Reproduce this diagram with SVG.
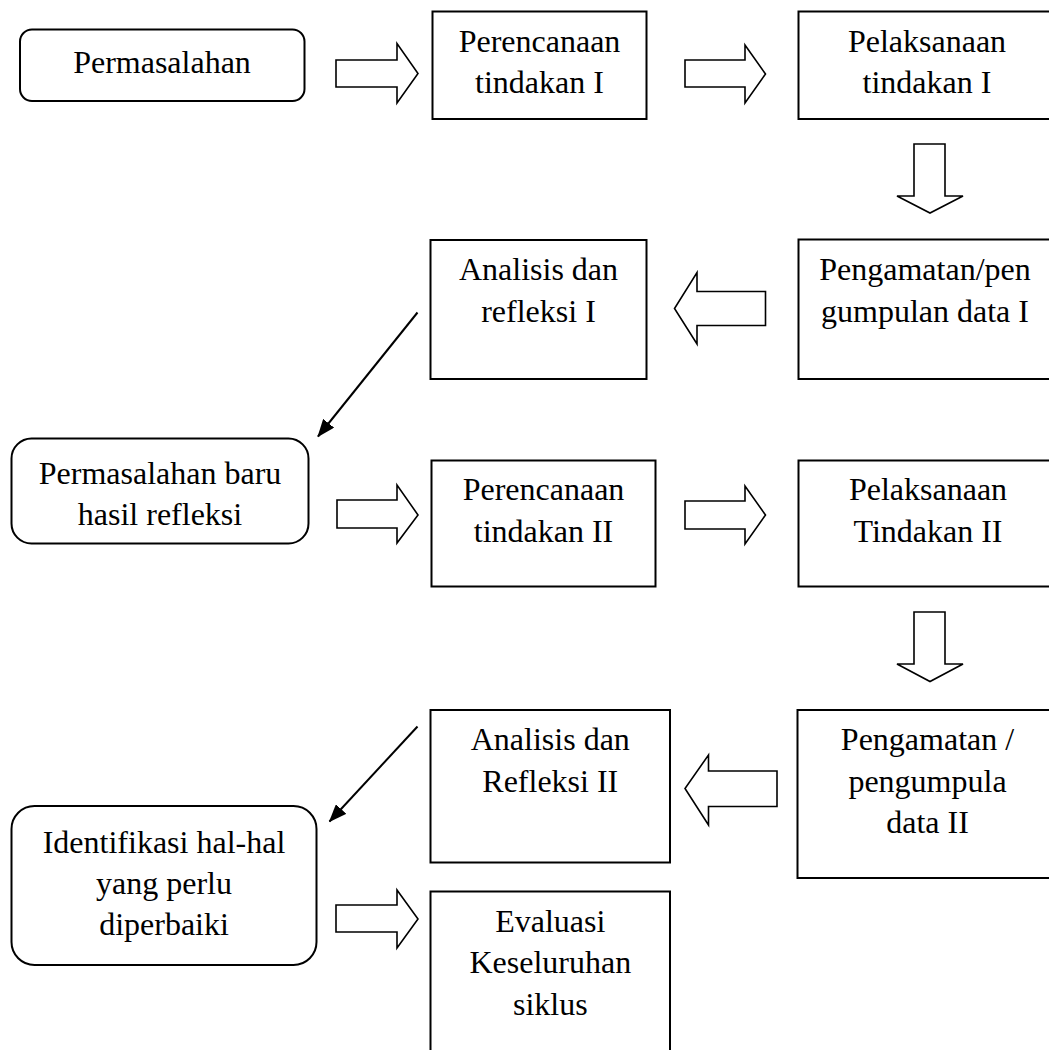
<svg xmlns="http://www.w3.org/2000/svg" width="1049" height="1050" viewBox="0 0 1049 1050">
<defs>
<style>
.box{fill:#fff;stroke:#000;stroke-width:2}
.blk{fill:#fff;stroke:#000;stroke-width:1.6;stroke-linejoin:miter}
.ln{fill:none;stroke:#000;stroke-width:2}
text{font-family:"Liberation Serif","Times New Roman",serif;font-size:32px;fill:#000;text-anchor:middle}
</style>
<marker id="ah" markerWidth="18" markerHeight="14" refX="17" refY="7" orient="auto" markerUnits="userSpaceOnUse" viewBox="0 0 18 14">
<path d="M0,0 L18,7 L0,14 Z" fill="#000"/>
</marker>
</defs>
<rect width="1049" height="1050" fill="#fff"/>

<g id="n-permasalahan">
<rect class="box" x="20" y="29.5" width="284.5" height="71.5" rx="12"/>
<text x="162" y="73">Permasalahan</text>
</g>
<g id="n-perencanaan1">
<rect class="box" x="432.5" y="11.5" width="214" height="107.5"/>
<text x="539.5" y="52">Perencanaan</text>
<text x="539.5" y="93">tindakan I</text>
</g>
<g id="n-pelaksanaan1">
<rect class="box" x="798.5" y="11.5" width="300" height="107.5"/>
<text x="927" y="52">Pelaksanaan</text>
<text x="927" y="93">tindakan I</text>
</g>
<g id="n-analisis1">
<rect class="box" x="430.5" y="240" width="216" height="139"/>
<text x="538.5" y="280">Analisis dan</text>
<text x="538.5" y="322">refleksi I</text>
</g>
<g id="n-pengamatan1">
<rect class="box" x="798.5" y="239.5" width="300" height="139.5"/>
<text x="925" y="280">Pengamatan/pen</text>
<text x="925" y="322">gumpulan data I</text>
</g>
<g id="n-permasalahanbaru">
<rect class="box" x="11.5" y="438.5" width="297" height="105" rx="20"/>
<text x="160" y="483.5">Permasalahan baru</text>
<text x="160" y="525">hasil refleksi</text>
</g>
<g id="n-perencanaan2">
<rect class="box" x="431.5" y="460.5" width="224" height="126"/>
<text x="543.5" y="500">Perencanaan</text>
<text x="543.5" y="541.5">tindakan II</text>
</g>
<g id="n-pelaksanaan2">
<rect class="box" x="798.5" y="460.5" width="300" height="126"/>
<text x="928" y="500">Pelaksanaan</text>
<text x="928" y="541.5">Tindakan II</text>
</g>
<g id="n-analisis2">
<rect class="box" x="430.5" y="710" width="239.5" height="152.5"/>
<text x="550.3" y="750">Analisis dan</text>
<text x="550.3" y="791.5">Refleksi II</text>
</g>
<g id="n-pengamatan2">
<rect class="box" x="797.5" y="710" width="300" height="168"/>
<text x="927.5" y="750">Pengamatan /</text>
<text x="927.5" y="791.5">pengumpula</text>
<text x="927.5" y="833">data II</text>
</g>
<g id="n-identifikasi">
<rect class="box" x="11.5" y="806" width="305" height="159" rx="23"/>
<text x="164" y="853">Identifikasi hal-hal</text>
<text x="164" y="894">yang perlu</text>
<text x="164" y="935">diperbaiki</text>
</g>
<g id="n-evaluasi">
<rect class="box" x="430.5" y="891.5" width="239.5" height="200"/>
<text x="550.3" y="931.5">Evaluasi</text>
<text x="550.3" y="973">Keseluruhan</text>
<text x="550.3" y="1015">siklus</text>
</g>

<g id="connectors">
<polygon class="blk" points="336,60 397,60 397,43.5 418,73.5 397,103 397,87 336,87"/>
<polygon class="blk" points="685,60 745,60 745,45 765.5,74 745,103 745,87 685,87"/>
<polygon class="blk" points="914,144 945,144 945,196 963,196 930,213 897,196 914,196"/>
<polygon class="blk" points="765.5,291.5 697,291.5 697,272.5 674.5,308.5 697,344 697,325.5 765.5,325.5"/>
<line class="ln" x1="417.5" y1="312.5" x2="318" y2="436.5" marker-end="url(#ah)"/>
<polygon class="blk" points="337,500 397,500 397,485 418,515 397,543 397,528 337,528"/>
<polygon class="blk" points="685,501 745,501 745,486 765.5,515 745,544 745,529 685,529"/>
<polygon class="blk" points="914,612 945,612 945,664 963,664 930,681.5 897,664 914,664"/>
<polygon class="blk" points="777,771 708.5,771 708.5,755 685,788.5 708.5,825 708.5,806.5 777,806.5"/>
<line class="ln" x1="417.5" y1="726.5" x2="329.5" y2="821.5" marker-end="url(#ah)"/>
<polygon class="blk" points="336,905 397,905 397,890 418,919 397,948 397,932 336,932"/>
</g>
</svg>
